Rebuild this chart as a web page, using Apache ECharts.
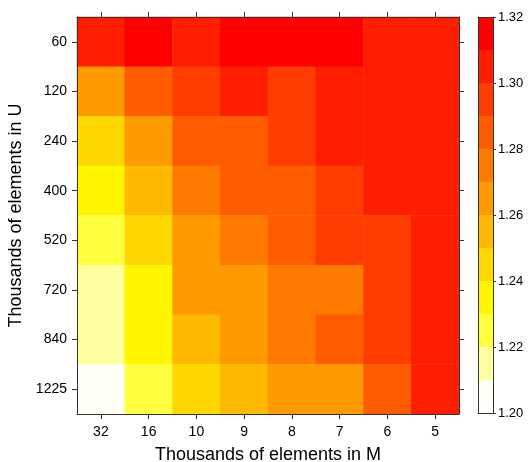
<!DOCTYPE html>
<html>
<head>
<meta charset="utf-8">
<script src="https://cdn.jsdelivr.net/npm/echarts@6/dist/echarts.min.js"></script>
<style>
html,body{margin:0;padding:0;background:#fff;}
#chart{width:530px;height:462px;}
</style>
</head>
<body>
<div id="chart"></div>
<script>
// Categories
var mLabels = ['32', '16', '10', '9', '8', '7', '6', '5'];
var uLabels = ['60', '120', '240', '400', '520', '720', '840', '1225'];
// Values per row (U), columns follow mLabels
var row60   = [1.305, 1.315, 1.305, 1.315, 1.315, 1.315, 1.305, 1.305];
var row120  = [1.265, 1.285, 1.295, 1.305, 1.295, 1.305, 1.305, 1.305];
var row240  = [1.245, 1.265, 1.285, 1.285, 1.295, 1.305, 1.305, 1.305];
var row400  = [1.235, 1.255, 1.275, 1.285, 1.285, 1.295, 1.305, 1.305];
var row520  = [1.225, 1.245, 1.265, 1.275, 1.285, 1.295, 1.295, 1.305];
var row720  = [1.215, 1.235, 1.265, 1.265, 1.275, 1.275, 1.295, 1.305];
var row840  = [1.215, 1.235, 1.255, 1.265, 1.275, 1.285, 1.295, 1.305];
var row1225 = [1.205, 1.225, 1.245, 1.255, 1.265, 1.265, 1.285, 1.305];
var rows = [row60, row120, row240, row400, row520, row720, row840, row1225];
// Colour scale breaks and band colours (low to high)
var breaks = [1.20, 1.21, 1.22, 1.23, 1.24, 1.25, 1.26, 1.27, 1.28, 1.29, 1.30, 1.31, 1.32];
var bandColors = ['#FFFFF6', '#FFFFA0', '#FFFF40', '#FFF600', '#FFD800', '#FFB900', '#FF9A00', '#FF7B00', '#FF5C00', '#FF3D00', '#FF1F00', '#FF0000'];

var heatData = [];
rows.forEach(function (r, yi) {
  r.forEach(function (v, xi) { heatData.push([xi, yi, v]); });
});
var pieces = [];
for (var i = 0; i < bandColors.length; i++) {
  pieces.push({ gte: breaks[i], lt: breaks[i + 1], color: bandColors[i] });
}
var cbSeries = bandColors.map(function (c, i) {
  var v = i === 0 ? breaks[1] : +(breaks[i + 1] - breaks[i]).toFixed(4);
  return {
    type: 'bar', stack: 'cb', xAxisIndex: 2, yAxisIndex: 2,
    data: [v], barWidth: '100%', barCategoryGap: 0, silent: true,
    itemStyle: { color: c }, clip: true
  };
});

var FONT = 'Liberation Sans';
var lineC = '#333';
function line() { return { show: true, onZero: false, lineStyle: { color: lineC, width: 1 } }; }
function tick(len) { return { show: true, alignWithLabel: true, inside: false, length: len, lineStyle: { color: lineC, width: 1 } }; }

var chart = echarts.init(document.getElementById('chart'));
chart.setOption({
  animation: false,
  backgroundColor: '#fff',
  textStyle: { fontFamily: FONT },
  grid: [
    { left: 77, top: 17, width: 382, height: 397, containLabel: false, outerBoundsMode: 'none' },
    { left: 478, top: 17, width: 15, height: 396, containLabel: false, outerBoundsMode: 'none' }
  ],
  xAxis: [
    {
      type: 'category', data: mLabels, gridIndex: 0, position: 'bottom', z: 10,
      name: 'Thousands of elements in M', nameLocation: 'middle', nameGap: 32,
      nameTextStyle: { fontSize: 18, color: '#000', fontFamily: FONT },
      axisLine: line(), axisTick: tick(5),
      axisLabel: { show: true, fontSize: 14, color: '#000', margin: 11, fontFamily: FONT },
      splitLine: { show: false }
    },
    {
      type: 'category', data: mLabels, gridIndex: 0, position: 'top', z: 10,
      axisLine: line(), axisTick: tick(5),
      axisLabel: { show: false }, splitLine: { show: false }
    },
    {
      type: 'category', data: [''], gridIndex: 1, position: 'bottom', z: 10,
      axisLine: line(), axisTick: { show: false },
      axisLabel: { show: false }, splitLine: { show: false }
    },
    {
      type: 'category', data: [''], gridIndex: 1, position: 'top', z: 10,
      axisLine: line(), axisTick: { show: false },
      axisLabel: { show: false }, splitLine: { show: false }
    }
  ],
  yAxis: [
    {
      type: 'category', data: uLabels, inverse: true, gridIndex: 0, position: 'left', z: 10,
      name: 'Thousands of elements in U', nameLocation: 'middle', nameGap: 46,
      nameTextStyle: { fontSize: 18, color: '#000', fontFamily: FONT },
      axisLine: line(), axisTick: tick(5),
      axisLabel: { show: true, fontSize: 14, color: '#000', margin: 10, fontFamily: FONT },
      splitLine: { show: false }
    },
    {
      type: 'category', data: uLabels, inverse: true, gridIndex: 0, position: 'right', z: 10,
      axisLine: line(), axisTick: tick(5),
      axisLabel: { show: false }, splitLine: { show: false }
    },
    {
      type: 'value', gridIndex: 1, position: 'right', min: 1.20, max: 1.32, interval: 0.02, z: 10,
      axisLine: line(),
      axisTick: { show: true, inside: false, length: 3, lineStyle: { color: lineC, width: 1 } },
      axisLabel: { show: true, fontSize: 13, color: '#000', margin: 5, fontFamily: FONT,
        formatter: function (v) { return v.toFixed(2); } },
      splitLine: { show: false }
    },
    {
      type: 'value', gridIndex: 1, position: 'left', min: 1.20, max: 1.32, interval: 0.02, z: 10,
      axisLine: line(),
      axisTick: { show: false }, axisLabel: { show: false }, splitLine: { show: false }
    }
  ],
  visualMap: {
    type: 'piecewise', show: false, seriesIndex: 0, dimension: 2, pieces: pieces
  },
  series: [
    {
      type: 'heatmap', xAxisIndex: 0, yAxisIndex: 0, data: heatData,
      itemStyle: { borderWidth: 0 }, silent: true
    }
  ].concat(cbSeries)
});
</script>
</body>
</html>
